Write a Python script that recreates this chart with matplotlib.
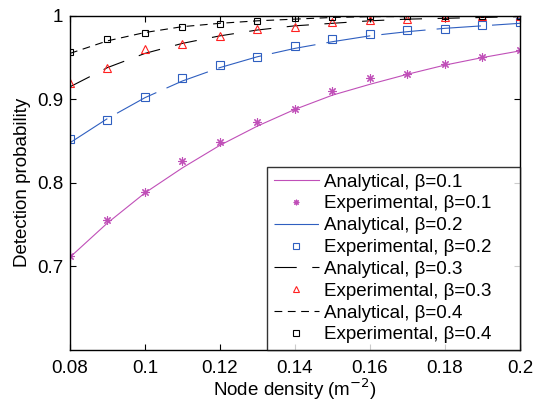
import matplotlib
matplotlib.use('Agg')
import matplotlib.pyplot as plt

density = [0.08, 0.09, 0.10, 0.11, 0.12, 0.13, 0.14, 0.15, 0.16, 0.17, 0.18, 0.19, 0.20]

# analytical curves
ana_01 = [0.711, 0.752, 0.788, 0.818, 0.845, 0.868, 0.888, 0.905, 0.918, 0.930, 0.941, 0.950, 0.958]
ana_02 = [0.848, 0.877, 0.902, 0.922, 0.938, 0.951, 0.961, 0.969, 0.976, 0.981, 0.985, 0.988, 0.991]
ana_03 = [0.915, 0.938, 0.955, 0.967, 0.976, 0.983, 0.988, 0.991, 0.994, 0.996, 0.997, 0.998, 0.999]
ana_04 = [0.955, 0.970, 0.980, 0.987, 0.991, 0.994, 0.996, 0.998, 0.999, 0.999, 1.000, 1.000, 1.000]

# experimental points
exp_01 = [0.712, 0.755, 0.789, 0.826, 0.849, 0.873, 0.888, 0.910, 0.925, 0.930, 0.942, 0.951, 0.959]
exp_02 = [0.852, 0.875, 0.903, 0.926, 0.941, 0.951, 0.964, 0.972, 0.978, 0.983, 0.984, 0.989, 0.992]
exp_03 = [0.919, 0.937, 0.960, 0.966, 0.976, 0.984, 0.987, 0.992, 0.995, 0.996, 0.998, 1.000, 1.000]
exp_04 = [0.957, 0.972, 0.980, 0.987, 0.990, 0.994, 0.997, 0.999, 1.000, 1.000, 1.000, 1.000, 1.000]

matplotlib.rcParams['font.family'] = ['Liberation Sans', 'DejaVu Sans']
fs = 13.5

f = plt.figure(figsize=(5.36, 4.05), dpi=100)
ax = f.add_axes([0.1306, 0.136, 0.8394, 0.825])

pink = '#c04fb8'
blue = '#2f5fc0'
red = '#ff2020'

ax.plot(density, ana_01, '-', color=pink, lw=0.8, label='Analytical, \u03b2=0.1')
ax.plot(density, exp_01, marker=(8, 2, 0), color=pink, ms=6, mew=0.8, ls='none', label='Experimental, \u03b2=0.1')
ax.plot(density, ana_02, color=blue, lw=0.8, dashes=(40, 10), label='Analytical, \u03b2=0.2')
ax.plot(density, exp_02, 's', mfc='none', mec=blue, ms=5.2, mew=0.8, ls='none', label='Experimental, \u03b2=0.2')
ax.plot(density, ana_03, color='black', lw=0.8, dashes=(20, 14), label='Analytical, \u03b2=0.3')
ax.plot(density, exp_03, '^', mfc='none', mec=red, ms=5.5, mew=0.8, ls='none', label='Experimental, \u03b2=0.3')
ax.plot(density, ana_04, color='black', lw=0.8, dashes=(7, 5), label='Analytical, \u03b2=0.4')
ax.plot(density, exp_04, 's', mfc='none', mec='black', ms=5, mew=0.8, ls='none', label='Experimental, \u03b2=0.4')

ax.set_xlim(0.08, 0.2)
ax.set_ylim(0.6, 1.0)
ax.set_xticks([0.08, 0.1, 0.12, 0.14, 0.16, 0.18, 0.2])
ax.set_xticklabels(['0.08', '0.1', '0.12', '0.14', '0.16', '0.18', '0.2'])
ax.set_yticks([0.7, 0.8, 0.9, 1.0])
ax.set_yticklabels(['0.7', '0.8', '0.9', '1'])
ax.tick_params(direction='in', top=True, right=True, length=4, width=0.8, labelsize=fs)
ax.tick_params(axis='x', pad=7)
ax.tick_params(axis='y', pad=5)
for s in ax.spines.values():
    s.set_linewidth(1.0)

ax.set_xlabel('Node density (m$^{-2}$)', fontsize=fs, labelpad=0)
ax.set_ylabel('Detection probability', fontsize=fs, labelpad=4)

leg = ax.legend(loc='lower left', bbox_to_anchor=(0.438, 0.0, 0.562, 0.5), mode='expand',
                numpoints=1, fontsize=fs, frameon=True, fancybox=False,
                edgecolor='black', borderaxespad=0.0, labelspacing=0.25, handlelength=2.4,
                handletextpad=0.3, borderpad=0.35)
leg.get_frame().set_linewidth(1.0)
for h in leg.legend_handles:
    if h.get_linestyle() == 'None':
        h.set_markersize(4)

f.savefig('out.png', dpi=100)
